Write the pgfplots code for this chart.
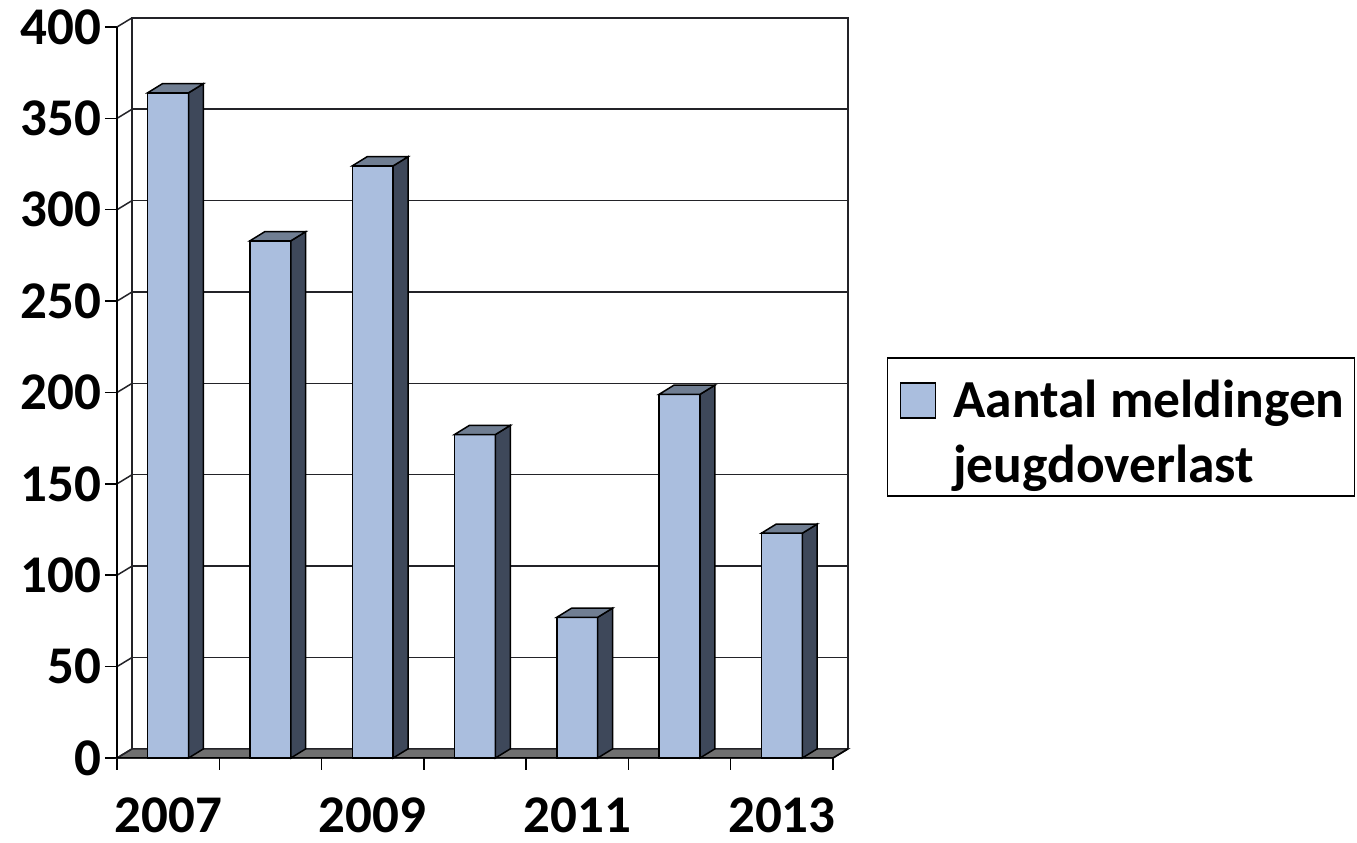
\documentclass[border=0pt]{standalone}
\usepackage{pgfplots}
\usepackage{pgfplotstable}
\pgfplotsset{compat=1.18}
\usepackage{fontspec}
\setmainfont{Carlito}
\definecolor{frontc}{RGB}{170,190,222}
\definecolor{sidec}{RGB}{62,72,90}
\definecolor{topc}{RGB}{112,126,146}
\definecolor{floorc}{RGB}{112,112,112}
\definecolor{gridc}{RGB}{35,35,40}

\pgfplotstableread{
x year value
0 2007 364
1 2008 283
2 2009 324
3 2010 177
4 2011 77
5 2012 199
6 2013 123
}\datatable

\begin{document}
\begin{tikzpicture}
\begin{axis}[
  at={(117pt,85pt)}, anchor=south west,
  scale only axis, width=716pt, height=731pt,
  xmin=-0.5, xmax=6.5, ymin=0, ymax=400,
  clip=false,
  axis line style={draw=none},
  tick align=outside,
  xtick pos=left, ytick pos=left,
  xtick={-0.5,0.5,...,6.5}, xticklabels={},
  extra x ticks={0,2,4,6},
  extra x tick labels={2007,2009,2011,2013},
  extra x tick style={major tick length=0pt},
  ytick={0,50,...,400},
  major tick length=12pt,
  tick style={black, line width=1.5pt},
  ticklabel style={font=\fontsize{53}{53}\selectfont\bfseries},
  xticklabel style={yshift=-36pt},
  /pgf/number format/assume math mode=true,
  legend cell align=left,
  legend style={at={(1.0754,0.4528)}, anchor=west, draw=black, line width=1.5pt,
    font=\fontsize{53.5}{65}\selectfont\bfseries, inner xsep=8pt, inner ysep=0pt,
    cells={align=left}, nodes={text depth=11pt},
    /tikz/every odd column/.append style={column sep=15pt}},
]
% floor
\filldraw[fill=floorc, draw=gridc, line width=1.5pt] (-0.5,0) -- (6.5,0) -- (6.647,5) -- (-0.353,5) -- cycle;
% back wall gridlines
\draw[gridc, line width=1.5pt] foreach \k in {55,105,155,205,255,305,355} { (-0.353,\k) -- (6.647,\k) };
\draw[gridc, line width=1.5pt] (-0.353,5) -- (-0.353,405) -- (6.647,405) -- (6.647,5);
% side wall connectors
\draw[gridc, line width=1.5pt] foreach \k/\kk in {0/5,50/55,100/105,150/155,200/205,250/255,300/305,350/355,400/405} { (-0.5,\k) -- (-0.353,\kk) };
% front axis lines
\draw[black, line width=1.5pt] (-0.5,0) -- (-0.5,400);
\draw[black, line width=1.5pt] (-0.5,0) -- (6.5,0) -- (6.647,5);

\addlegendimage{legend image code/.code={\path (-4pt,26pt);\draw[fill=frontc, draw=black, line width=1.5pt] (0pt,9pt) rectangle (35pt,44pt);}}
\addlegendentry{\rule{0pt}{58pt}Aantal meldingen\\jeugdoverlast}

\addplot[ybar, bar width=0.4, bar shift=0pt, fill=frontc, draw=black, line width=1.5pt, forget plot]
  table[x=x, y=value] {\datatable};

\pgfplotsforeachungrouped \i in {0,...,6}{%
  \pgfplotstablegetelem{\i}{value}\of\datatable
  \let\v=\pgfplotsretval
  \pgfmathsetmacro\xa{\i+0.2}%
  \pgfmathsetmacro\xb{\i+0.345}%
  \pgfmathsetmacro\xc{\i-0.2}%
  \pgfmathsetmacro\xd{\i-0.055}%
  \pgfmathsetmacro\vt{\v+5}%
  \edef\temp{%
    \noexpand\addplot[forget plot, fill=sidec, draw=black, line width=1.5pt] coordinates {(\xa,0) (\xb,5) (\xb,\vt) (\xa,\v)} -- cycle;
    \noexpand\addplot[forget plot, fill=topc, draw=black, line width=1.5pt] coordinates {(\xc,\v) (\xa,\v) (\xb,\vt) (\xd,\vt)} -- cycle;
  }%
  \temp
}
\end{axis}
\pgfresetboundingbox
\path[use as bounding box] (0,0) rectangle (1357pt,843pt);
\end{tikzpicture}
\end{document}
